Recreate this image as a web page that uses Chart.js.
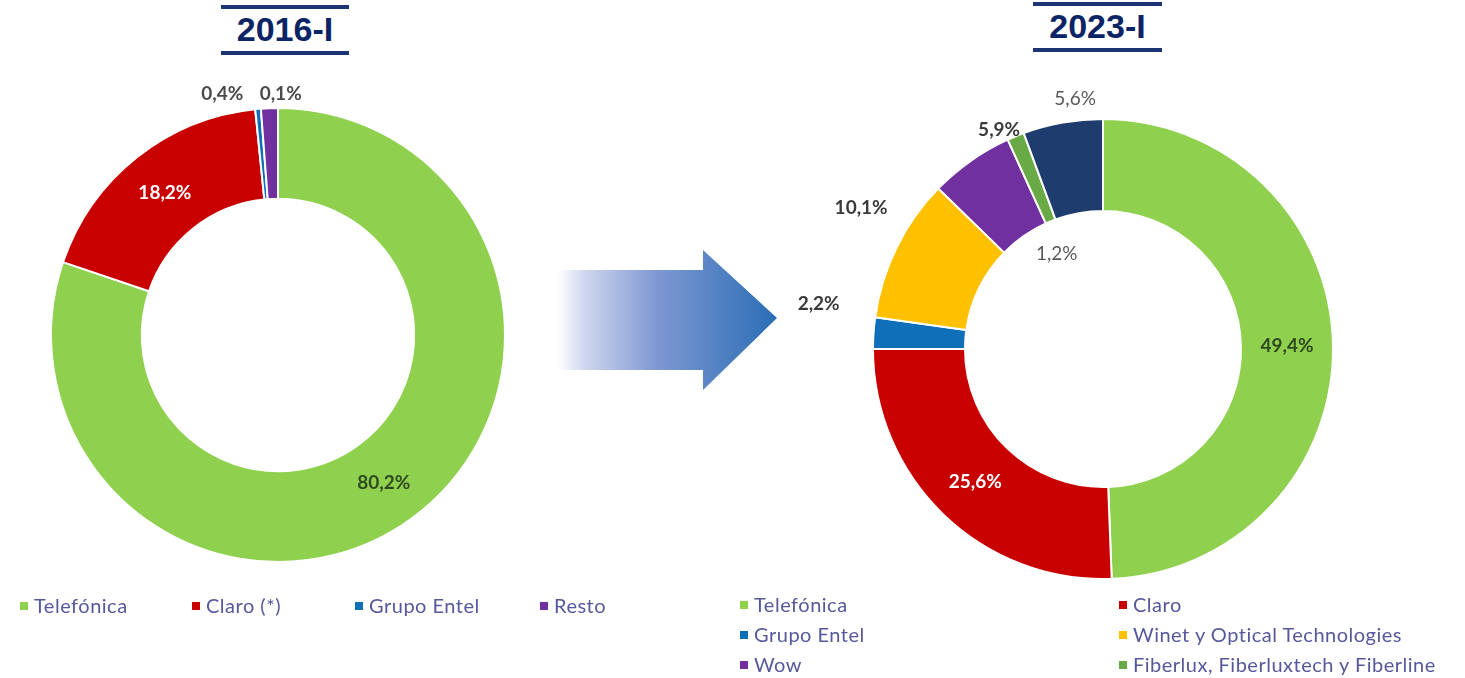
<!DOCTYPE html>
<html>
<head>
<meta charset="utf-8">
<script src="https://cdn.jsdelivr.net/npm/chart.js@4.4.1/dist/chart.umd.min.js"></script>
<style>
  body { margin: 0; width: 1465px; height: 678px; background: #fff; position: relative; overflow: hidden; font-family: Lato, "Open Sans", sans-serif; }
  .title { position: absolute; color: #0b2466; font: bold 34px "Liberation Sans", Arial, sans-serif; text-align: center; border-top: 4px solid #1b3473; border-bottom: 4px solid #1b3473; line-height: 40px; }
  .wrap { position: absolute; }
  .legend { position: absolute; color: #56589b; font-size: 20px; letter-spacing: 0.5px; }
  .legend span.item { position: absolute; white-space: nowrap; }
  .legend i { display: inline-block; width: 8px; height: 8px; margin-right: 6px; vertical-align: 3px; }
</style>
</head>
<body>

<div class="title" style="left:221px; top:5px; width:128px; height:42px;">2016-I</div>
<div class="title" style="left:1033px; top:2px; width:129px; height:42px;">2023-I</div>

<svg style="position:absolute; left:550px; top:245px;" width="235" height="150">
  <defs>
    <linearGradient id="arrowGrad" x1="0" y1="0" x2="1" y2="0">
      <stop offset="0" stop-color="#ffffff"/>
      <stop offset="0.12" stop-color="#cfd6ee"/>
      <stop offset="0.45" stop-color="#7f98d2"/>
      <stop offset="1" stop-color="#2a6db5"/>
    </linearGradient>
  </defs>
  <polygon points="8,25 153,25 153,5 227,73 153,145 153,125 8,125" fill="url(#arrowGrad)"/>
</svg>

<div class="wrap" style="left:8px; top:65px; width:540px; height:540px;"><canvas id="c2016"></canvas></div>
<div class="wrap" style="left:787px; top:33px; width:632px; height:632px;"><canvas id="c2023"></canvas></div>

<div class="legend" id="leg2016"></div>
<div class="legend" id="leg2023"></div>

<script>
// 2016-I
const names2016 = ["Telefónica", "Claro (*)", "Grupo Entel", "Resto"];
const shares2016 = [80.2, 18.2, 0.4, 1.2];
const labels2016 = ["80,2%", "18,2%", "0,4%", "0,1%"];
const colors2016 = ["#8fd14f", "#c80000", "#0f6fb8", "#7030a0"];

// 2023-I
const names2023 = ["Telefónica", "Claro", "Grupo Entel", "Winet y Optical Technologies", "Wow", "Fiberlux, Fiberluxtech y Fiberline", "Otros"];
const shares2023 = [49.4, 25.6, 2.2, 10.1, 5.9, 1.2, 5.6];
const labels2023 = ["49,4%", "25,6%", "2,2%", "10,1%", "5,9%", "1,2%", "5,6%"];
const colors2023 = ["#8fd14f", "#c80000", "#0f6fb8", "#ffc000", "#7030a0", "#6aaa46", "#1f3c6e"];

// label placement: radius as part of outer radius, plus nudges
const place2016 = [
  { r: 0.80, dx: 0, dy: 0, color: "#2f4a1f", weight: "bold" },
  { r: 0.80, dx: 0, dy: 0, color: "#ffffff", weight: "bold" },
  { r: 1.09, dx: -34, dy: 5, color: "#4a4a4a", weight: "bold" },
  { r: 1.09, dx: 12, dy: 6, color: "#4a4a4a", weight: "bold" }
];
const place2023 = [
  { r: 0.80, dx: 0, dy: 0, color: "#2f4a1f", weight: "bold" },
  { r: 0.80, dx: 0, dy: 0, color: "#ffffff", weight: "bold" },
  { r: 1.20, dx: -9, dy: -26, color: "#3a3a3a", weight: "bold" },
  { r: 1.20, dx: 6, dy: -20, color: "#3a3a3a", weight: "bold" },
  { r: 1.05, dx: 35, dy: -22, color: "#3a3a3a", weight: "bold" },
  { r: 0.45, dx: -7, dy: 1, color: "#595959", weight: "normal" },
  { r: 1.09, dx: 16, dy: -3, color: "#595959", weight: "normal" }
];

const sliceLabels = {
  id: "sliceLabels",
  afterDatasetsDraw(chart, args, opts) {
    const ctx = chart.ctx;
    const meta = chart.getDatasetMeta(0);
    ctx.save();
    ctx.textAlign = "center";
    ctx.textBaseline = "middle";
    meta.data.forEach((arc, i) => {
      const p = opts.place[i];
      const mid = (arc.startAngle + arc.endAngle) / 2;
      const rad = arc.outerRadius * p.r;
      const x = arc.x + Math.cos(mid) * rad + p.dx;
      const y = arc.y + Math.sin(mid) * rad + p.dy;
      ctx.font = p.weight + " 19px Lato, 'Open Sans', sans-serif";
      ctx.fillStyle = p.color;
      ctx.fillText(opts.texts[i], x, y);
    });
    ctx.restore();
  }
};

function makeDonut(id, names, shares, colors, texts, place, pad) {
  new Chart(document.getElementById(id), {
    type: "doughnut",
    data: {
      labels: names,
      datasets: [{
        data: shares,
        backgroundColor: colors,
        borderColor: "#ffffff",
        borderWidth: 2
      }]
    },
    options: {
      responsive: true,
      maintainAspectRatio: false,
      animation: false,
      cutout: "60%",
      layout: { padding: pad },
      plugins: {
        legend: { display: false },
        tooltip: { enabled: false },
        sliceLabels: { texts: texts, place: place }
      }
    },
    plugins: [sliceLabels]
  });
}

makeDonut("c2016", names2016, shares2016, colors2016, labels2016, place2016, 42);
makeDonut("c2023", names2023, shares2023, colors2023, labels2023, place2023, 85);

// legends
const legLeft2016 = [20, 192, 355, 540];
const leg16 = document.getElementById("leg2016");
names2016.forEach((n, i) => {
  const s = document.createElement("span");
  s.className = "item";
  s.style.left = legLeft2016[i] + "px";
  s.style.top = "593px";
  s.innerHTML = '<i style="background:' + colors2016[i] + '"></i>' + n;
  leg16.appendChild(s);
});

const leg23 = document.getElementById("leg2023");
for (let i = 0; i < 6; i++) {
  const s = document.createElement("span");
  s.className = "item";
  s.style.left = (i % 2 === 0 ? 740 : 1119) + "px";
  s.style.top = (592 + Math.floor(i / 2) * 30) + "px";
  s.innerHTML = '<i style="background:' + colors2023[i] + '"></i>' + names2023[i];
  leg23.appendChild(s);
}
</script>
</body>
</html>
